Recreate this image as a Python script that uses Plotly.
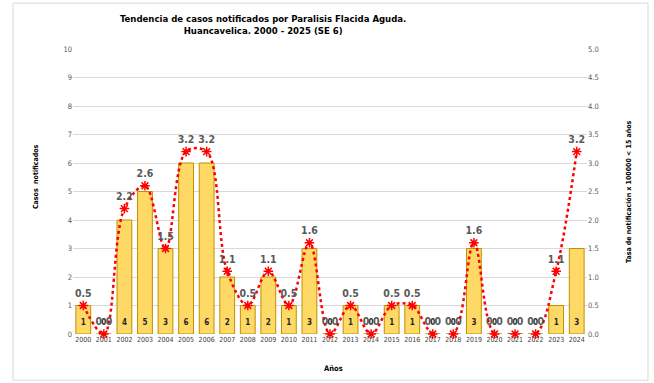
import plotly.graph_objects as go

# Casos notificados de Parálisis Flácida Aguda y tasa por 100 000 < 15 años
years = [str(y) for y in range(2000, 2025)]
casos = [1, 0, 4, 5, 3, 6, 6, 2, 1, 2, 1, 3, 0, 1, 0, 1, 1, 0, 0, 3, 0, 0, 0, 1, 3]
tasa = [0.5, 0.0, 2.2, 2.6, 1.5, 3.2, 3.2, 1.1, 0.5, 1.1, 0.5, 1.6, 0.0, 0.5, 0.0,
        0.5, 0.5, 0.0, 0.0, 1.6, 0.0, 0.0, 0.0, 1.1, 3.2]

FONT = "DejaVu Sans Condensed, Liberation Sans Narrow, Liberation Sans, Arial"

fig = go.Figure()

# Barras de casos (eje izquierdo)
fig.add_trace(go.Bar(
    x=years, y=casos,
    marker=dict(color="#FFD966", line=dict(color="#BF9000", width=1)),
    yaxis="y", showlegend=False, hoverinfo="x+y",
))

# Etiquetas de casos en la base de cada barra
fig.add_trace(go.Scatter(
    x=years, y=[0.4] * len(years), mode="text",
    text=[str(c) for c in casos],
    textfont=dict(family=FONT, size=8, color="#262626", weight="bold"),
    yaxis="y", showlegend=False, hoverinfo="skip",
))

# Tasa de notificación (eje derecho), línea suavizada punteada
fig.add_trace(go.Scatter(
    x=years, y=tasa, mode="lines+markers+text",
    line=dict(color="#FF0000", width=2.5, dash="dot", shape="spline", smoothing=1),
    marker=dict(symbol="asterisk-open", size=8, color="#FF0000",
                line=dict(color="#FF0000", width=1.5)),
    text=[f"{t:.1f}" for t in tasa], textposition="top center",
    textfont=dict(family=FONT, size=10.5, color="#595959", weight="bold"),
    yaxis="y2", showlegend=False, cliponaxis=False,
))

fig.update_layout(
    width=654, height=383,
    margin=dict(l=73, r=67, t=49, b=49, autoexpand=False),
    paper_bgcolor="white", plot_bgcolor="white",
    font=dict(family=FONT, color="#595959"),
    bargap=0.28,
    xaxis=dict(
        type="category", range=[-0.5, 24.5], showgrid=False, showline=False,
        ticks="", tickangle=0, automargin=False,
        tickfont=dict(size=7, color="#404040"),
    ),
    yaxis=dict(
        range=[0, 10], dtick=1, showgrid=True, gridcolor="#D9D9D9", gridwidth=1,
        zeroline=False, showline=False, ticks="", automargin=False,
        tickfont=dict(size=7.5, color="#595959"),
    ),
    yaxis2=dict(
        range=[0, 5], dtick=0.5, tickformat=".1f", overlaying="y", side="right",
        showgrid=False, zeroline=False, showline=False, ticks="", automargin=False,
        tickfont=dict(size=7.5, color="#595959"),
    ),
    shapes=[dict(
        type="rect", xref="paper", yref="paper",
        x0=-0.1167, x1=1.1187, y0=-0.162, y1=1.161,
        line=dict(color="#D9D9D9", width=1), fillcolor="rgba(0,0,0,0)", layer="below",
    )],
    annotations=[
        dict(text="Tendencia de casos notificados por Paralisis Flacida Aguda.<br>"
                  "Huancavelica. 2000 - 2025 (SE 6)",
             xref="paper", yref="paper", x=(263 - 73) / 514, y=(334 - 25) / 285,
             showarrow=False, xanchor="center", yanchor="middle",
             font=dict(family=FONT, size=9.5, color="#000000", weight="bold")),
        dict(text="Casos  notificados", xref="paper", yref="paper",
             x=(36 - 73) / 514, y=(334 - 177) / 285, textangle=-90,
             showarrow=False, xanchor="center", yanchor="middle",
             font=dict(family=FONT, size=7, color="#000000", weight="bold")),
        dict(text="Tasa de notificación x 100000 < 15 años", xref="paper", yref="paper",
             x=(629 - 73) / 514, y=(334 - 192) / 285, textangle=-90,
             showarrow=False, xanchor="center", yanchor="middle",
             font=dict(family=FONT, size=7, color="#000000", weight="bold")),
        dict(text="Años", xref="paper", yref="paper",
             x=(333 - 73) / 514, y=(334 - 368) / 285,
             showarrow=False, xanchor="center", yanchor="middle",
             font=dict(family=FONT, size=7.5, color="#000000", weight="bold")),
    ],
)

fig.write_html("out.html")
